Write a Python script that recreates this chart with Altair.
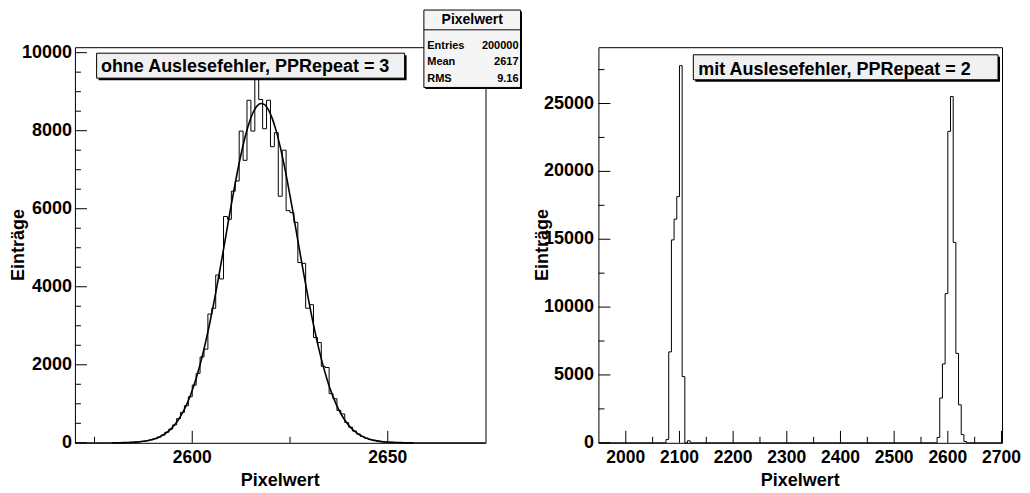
import altair as alt
import pandas as pd

FONT = "Liberation Sans"

# ---------------- data ----------------
# left histogram: bins of width 1 starting at these values
left_bin_start = list(range(2579, 2657))
left_counts = [1, 2, 3, 5, 8, 12, 18, 26, 38, 54,
               76, 106, 145, 198, 270, 350, 460, 620, 780, 950,
               1180, 1480, 1780, 2200, 2400, 3300, 3450, 4300, 4200, 5800,
               5730, 6450, 6710, 7990, 7240, 8780, 7990, 9660, 8800, 8050,
               8780, 7590, 7950, 6320, 7500, 5950, 5900, 5650, 4620, 4600,
               3450, 3540, 2700, 2570, 1960, 1930, 1260, 1130, 830, 740,
               520, 400, 300, 225, 165, 120, 87, 62, 44, 30,
               21, 14, 10, 6, 4, 3, 2, 1]
# gaussian fit curve, sampled at the bin centres
left_fit_values = [1, 2, 3, 5, 8, 12, 18, 26, 38, 54,
                   76, 106, 145, 198, 266, 352, 461, 598, 766, 966,
                   1208, 1493, 1821, 2195, 2619, 3077, 3580, 4114, 4673, 5247,
                   5832, 6389, 6922, 7405, 7832, 8185, 8453, 8626, 8698, 8667,
                   8534, 8303, 7983, 7584, 7122, 6606, 6059, 5477, 4903, 4339,
                   3791, 3273, 2800, 2358, 1965, 1619, 1317, 1061, 843, 661,
                   514, 393, 298, 223, 165, 120, 87, 62, 44, 30,
                   21, 14, 10, 6, 4, 3, 2, 1]
left_bin_width = 1

# right histogram: bins of width 5 (only non-empty bins listed)
right_bin_start = [2075, 2080, 2085, 2090, 2095, 2100, 2105, 2115,
                   2580, 2585, 2590, 2595, 2600, 2605, 2610, 2615, 2620, 2625, 2630]
right_counts = [250, 6700, 14950, 16480, 18140, 27790, 4880, 150,
                400, 3300, 5810, 10990, 22950, 25520, 14770, 6590, 2800, 600, 100]
right_bin_width = 5

left_xdomain = [2570, 2675]
left_ydomain = [0, 10140]
right_xdomain = [1949, 2701]
right_ydomain = [0, 29150]

left_xticks_major = [2600, 2650]
left_xticks_minor = [2575, 2625]
left_yticks_major = [0, 2000, 4000, 6000, 8000, 10000]
left_yticks_minor = [500, 1000, 1500, 2500, 3000, 3500, 4500, 5000, 5500,
                     6500, 7000, 7500, 8500, 9000, 9500]
right_xticks_major = [2000, 2100, 2200, 2300, 2400, 2500, 2600, 2700]
right_xticks_minor = [2050, 2150, 2250, 2350, 2450, 2550, 2650]
right_yticks_major = [0, 5000, 10000, 15000, 20000, 25000]
right_yticks_minor = [2500, 7500, 12500, 17500, 22500, 27500]

left_title = "ohne Auslesefehler, PPRepeat = 3"
right_title = "mit Auslesefehler, PPRepeat = 2"
stats_title = "Pixelwert"
stats_labels = ["Entries", "Mean", "RMS"]
stats_values = ["200000", "2617", "9.16"]
x_title = "Pixelwert"
y_title = "Einträge"

# ---------------- tables ----------------
left_step = pd.DataFrame(
    {"x": [left_xdomain[0]] + left_bin_start + [left_bin_start[-1] + left_bin_width, left_xdomain[1]],
     "y": [0] + left_counts + [0, 0]})
left_fit = pd.DataFrame({"x": [b + left_bin_width / 2 for b in left_bin_start],
                         "y": left_fit_values})

rmap = dict(zip(right_bin_start, right_counts))
r_edges = list(range(1950, 2700, right_bin_width))
right_step = pd.DataFrame({"x": r_edges + [2700], "y": [rmap.get(e, 0) for e in r_edges] + [0]})

WL, WR, H = 411, 404, 396
one = pd.DataFrame({"k": [0]})


def text(s, x, y, size, align="left", angle=0, baseline="alphabetic"):
    return alt.Chart(one).mark_text(text=s, align=align, baseline=baseline, font=FONT, angle=angle,
                                    fontWeight="bold", fontSize=size, color="black").encode(
        x=alt.value(x), y=alt.value(y))


def axis_layers(xs, ys, xmaj, xmin, ymaj, ymin, ylabpad, width):
    out = []
    # inner ticks (ROOT style)
    for vals, ln in ((xmaj, 12), (xmin, 6)):
        out.append(alt.Chart(pd.DataFrame({"x": vals})).mark_rule(color="black", strokeWidth=1).encode(
            x=alt.X("x:Q", scale=xs, axis=None), y=alt.value(H), y2=alt.value(H - ln)))
    for vals, ln in ((ymaj, 12), (ymin, 6)):
        out.append(alt.Chart(pd.DataFrame({"y": vals})).mark_rule(color="black", strokeWidth=1).encode(
            y=alt.Y("y:Q", scale=ys, axis=None), x=alt.value(0), x2=alt.value(ln)))
    # tick labels
    xl = pd.DataFrame({"x": xmaj, "t": [str(v) for v in xmaj]})
    out.append(alt.Chart(xl).mark_text(align="center", baseline="alphabetic", font=FONT, fontWeight="bold",
                                       fontSize=17.5, color="black").encode(
        x=alt.X("x:Q", scale=xs, axis=None), y=alt.value(H + 19.8), text="t:N"))
    yl = pd.DataFrame({"y": ymaj, "t": [str(v) for v in ymaj]})
    out.append(alt.Chart(yl).mark_text(align="right", baseline="middle", font=FONT, fontWeight="bold",
                                       fontSize=18, color="black").encode(
        y=alt.Y("y:Q", scale=ys, axis=None), x=alt.value(-ylabpad), text="t:N"))
    # axis titles
    out.append(text(x_title, width / 2, H + 43.6, 18, align="center"))
    out.append(text(y_title, -50.7, H / 2, 18, align="center", angle=270))
    return out


def box(x0, x1, y0, y1, fill, shadow=2):
    sh = alt.Chart(one).mark_rect(color="black").encode(
        x=alt.value(x0 + shadow), x2=alt.value(x1 + shadow),
        y=alt.value(y0 + shadow), y2=alt.value(y1 + shadow))
    bx = alt.Chart(one).mark_rect(fill=fill, stroke="black", strokeWidth=1).encode(
        x=alt.value(x0), x2=alt.value(x1), y=alt.value(y0), y2=alt.value(y1))
    return [sh, bx]


# ---------------- left panel ----------------
lxs = alt.Scale(domain=left_xdomain, nice=False, zero=False)
lys = alt.Scale(domain=left_ydomain, nice=False, zero=False)
l_hist = alt.Chart(left_step).mark_line(interpolate="step-after", color="black", strokeWidth=1).encode(
    x=alt.X("x:Q", scale=lxs, axis=None), y=alt.Y("y:Q", scale=lys, axis=None))
l_fit = alt.Chart(left_fit).mark_line(interpolate="monotone", color="black", strokeWidth=1.6).encode(
    x=alt.X("x:Q", scale=lxs, axis=None), y=alt.Y("y:Q", scale=lys, axis=None))
l_layers = [l_hist, l_fit] + axis_layers(lxs, lys, left_xticks_major, left_xticks_minor,
                                          left_yticks_major, left_yticks_minor, 3, WL)
l_layers += box(21.7, 330, 6, 31, "#f0f0f0")
l_layers.append(text(left_title, 26, 25.3, 18))
# statistics box
l_layers += box(349.3, 446, -37.2, 40.3, "#f5f5f5", shadow=1.5)
l_layers.append(alt.Chart(one).mark_rule(color="black", strokeWidth=1).encode(
    x=alt.value(349.3), x2=alt.value(446), y=alt.value(-17.4)))
l_layers.append(text(stats_title, 397.7, -23, 14, align="center"))
for lab, val, yy in zip(stats_labels, stats_values, [1.6, 18.3, 35]):
    l_layers.append(text(lab, 352.7, yy, 11))
    l_layers.append(text(val, 444, yy, 11, align="right"))
left = alt.layer(*l_layers).properties(width=WL, height=H)

# ---------------- right panel ----------------
rxs = alt.Scale(domain=right_xdomain, nice=False, zero=False)
rys = alt.Scale(domain=right_ydomain, nice=False, zero=False)
r_hist = alt.Chart(right_step).mark_line(interpolate="step-after", color="black", strokeWidth=1).encode(
    x=alt.X("x:Q", scale=rxs, axis=None), y=alt.Y("y:Q", scale=rys, axis=None))
r_layers = [r_hist] + axis_layers(rxs, rys, right_xticks_major, right_xticks_minor,
                                  right_yticks_major, right_yticks_minor, 4.5, WR)
r_layers += box(95, 400, 7.6, 32.6, "#f0f0f0")
r_layers.append(text(right_title, 100, 27.6, 18))
right = alt.layer(*r_layers).properties(width=WR, height=H)

chart = alt.hconcat(left, right, spacing=113, bounds="flush").properties(
    padding={"left": 1, "top": 0, "right": 0, "bottom": 0}, background="white"
).configure_view(stroke="black", strokeWidth=1)

chart.save("out.html", embed_options={"renderer": "svg", "actions": False})
